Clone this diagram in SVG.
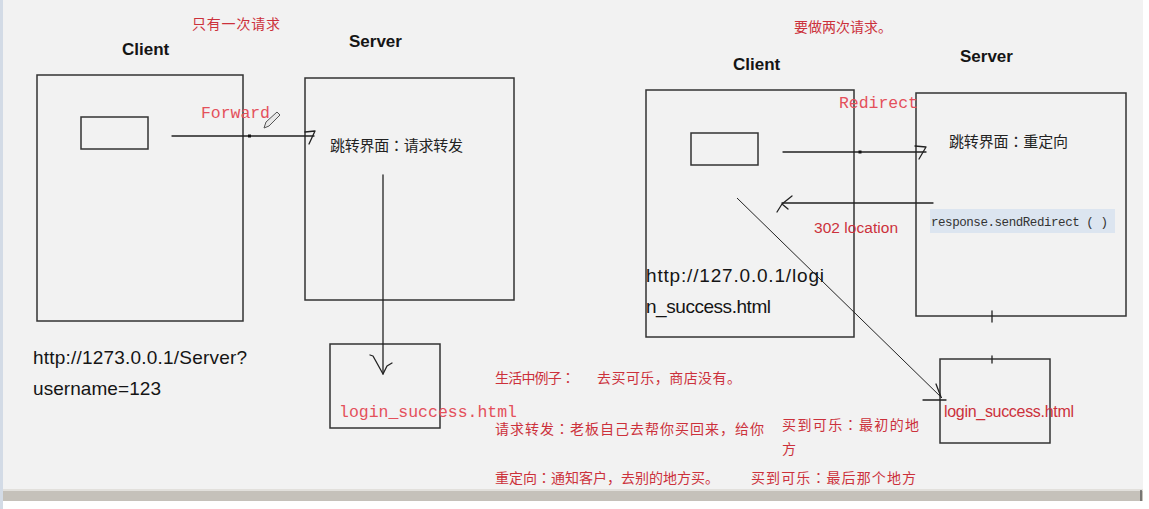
<svg xmlns="http://www.w3.org/2000/svg" width="1149" height="509" viewBox="0 0 1149 509">
<style>
.box{fill:none;stroke:#333;stroke-width:1.5}
.ln{fill:none;stroke:#222;stroke-width:1.3;stroke-linejoin:round;stroke-linecap:round}
.lbl{font-family:"Liberation Sans",Arial,sans-serif;font-weight:bold;font-size:17px;fill:#151515}
.url{font-family:"Liberation Sans",Arial,sans-serif;font-size:19px;fill:#151515}
.cn{font-family:"Liberation Sans","Noto Sans CJK SC",sans-serif;font-size:15px;fill:#222}
.red{font-family:"Liberation Sans","Noto Sans CJK SC",sans-serif;font-size:14px;fill:#cc313b}
.c{font-family:"Noto Sans CJK TC",sans-serif}
.mono{font-family:"Liberation Mono",monospace;font-size:16.5px;fill:#e4505b}
</style>
<rect x="0" y="0" width="1149" height="509" fill="#ffffff"/>
<rect x="0" y="0" width="1143" height="489" fill="#f2f2f2"/>
<rect x="0" y="0" width="3" height="509" fill="#d3dbe6"/>
<rect x="3" y="489" width="1140" height="2" fill="#e2e0dc"/>
<rect x="3" y="491" width="1140" height="10" fill="#c5c1ba"/>
<line x1="1141" y1="490" x2="1141" y2="501" stroke="#444" stroke-width="1.2"/>

<text class="red" x="192" y="29" textLength="88">只有一次请求</text>
<text class="red" x="794" y="32" textLength="98">要做两次请求。</text>

<g id="client-left">
<text class="lbl" x="122" y="55">Client</text>
<rect class="box" x="37" y="75" width="206" height="246"/>
<rect class="box" x="81" y="117" width="67" height="32"/>
<text class="url" x="33" y="364" textLength="214">http://1273.0.0.1/Server?</text>
<text class="url" x="33" y="395" textLength="128">username=123</text>
</g>

<g id="server-left">
<text class="lbl" x="349" y="47">Server</text>
<rect class="box" x="305" y="78" width="209" height="222"/>
<text class="cn" x="330" y="151" textLength="133">跳转界面<tspan class="c">：</tspan>请求转发</text>
</g>

<g id="login-left">
<rect class="box" x="330" y="344" width="110" height="84"/>
<text class="mono" x="339" y="417" textLength="178">login_success.html</text>
</g>

<g id="client-right">
<text class="lbl" x="733" y="70">Client</text>
<rect class="box" x="646" y="90" width="208" height="247"/>
<rect class="box" x="691" y="133" width="67" height="32"/>
<text class="url" x="646" y="282" textLength="178">http://127.0.0.1/logi</text>
<text class="url" x="646" y="313" textLength="125">n_success.html</text>
</g>

<g id="server-right">
<text class="lbl" x="960" y="62">Server</text>
<rect class="box" x="916" y="93" width="210" height="223"/>
<text class="cn" x="949" y="147" textLength="119">跳转界面<tspan class="c">：</tspan>重定向</text>
<rect x="930" y="209" width="185" height="24" fill="#dce5f0"/>
<text x="931" y="226" font-family="Liberation Mono,monospace" font-size="12.5" fill="#333" textLength="177">response.sendRedirect ( )</text>
</g>

<g id="login-right">
<rect class="box" x="940" y="359" width="110" height="84"/>
<text x="944" y="417" font-family="Liberation Sans,Arial,sans-serif" font-size="16" fill="#cc313b" textLength="130">login_success.html</text>
</g>

<g id="connectors">
<text class="mono" x="201" y="118" textLength="69">Forward</text>
<line class="ln" x1="172" y1="136" x2="314" y2="136"/>
<rect x="248" y="134.5" width="3" height="3" fill="#111"/>
<path class="ln" d="M305,132 L315,131 L309,144"/>
<line class="ln" x1="383" y1="175" x2="383" y2="374"/>
<path class="ln" d="M370,355 L373,356 L383,374 L387,366 L392,363"/>
<path d="M264,128 L266,122 L277,112 L280,115 L269,126 Z" fill="#e8e8e8" stroke="#555" stroke-width="1"/>

<text class="mono" x="839" y="108" textLength="79">Redirect</text>
<line class="ln" x1="783" y1="152" x2="926" y2="152"/>
<rect x="858.5" y="150.5" width="3" height="3" fill="#111"/>
<path class="ln" d="M915,146 L926,147 L919,159"/>
<line class="ln" x1="933" y1="203" x2="782" y2="203"/>
<path class="ln" d="M792,196 L782,204 L777,212 M782,204 L788,209"/>
<text x="814" y="233" font-family="Liberation Sans,Arial,sans-serif" font-size="15.5" fill="#cc313b" textLength="84">302 location</text>
<line x1="737" y1="198" x2="942" y2="398" stroke="#222" stroke-width="1"/>
<path class="ln" d="M936,384 L941,397 M923,400 L946,400"/>
<path class="ln" d="M992,311 V322 M992,356 V363"/>
</g>

<g id="notes">
<text class="red" x="495" y="383" textLength="80">生活中例子<tspan class="c">：</tspan></text>
<text class="red" x="597" y="383" textLength="144">去买可乐，商店没有。</text>
<text class="red" x="495" y="434" textLength="269">请求转发<tspan class="c">：</tspan>老板自己去帮你买回来，给你</text>
<text class="red" x="782" y="430" textLength="137">买到可乐<tspan class="c">：</tspan>最初的地</text>
<text class="red" x="782" y="454">方</text>
<text class="red" x="495" y="483" textLength="224">重定向<tspan class="c">：</tspan>通知客户，去别的地方买。</text>
<text class="red" x="751" y="483" textLength="165">买到可乐<tspan class="c">：</tspan>最后那个地方</text>
</g>
</svg>
